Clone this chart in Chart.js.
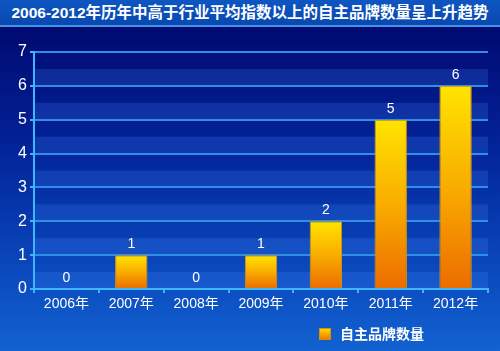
<!DOCTYPE html>
<html>
<head>
<meta charset="utf-8">
<script src="https://cdn.jsdelivr.net/npm/chart.js@4"></script>
<style>
    html, body { margin: 0; padding: 0; }
    body {
        width: 500px; height: 351px; position: relative; overflow: hidden;
        background: linear-gradient(to bottom, #000a72 0px, #000a72 30px, #03249a 150px, #0b4cc0 280px, #1262d0 351px);
        font-family: "Liberation Sans", "Noto Sans CJK SC", sans-serif;
    }
    .title {
        position: absolute; left: 0; top: 0; width: 500px; height: 25px;
        background: linear-gradient(to bottom, #0e56c2, #0a48b0);
        border-bottom: 2px solid #3f94e6;
        color: #fff; font-weight: bold; font-size: 15.5px; line-height: 25px;
        text-align: center; white-space: nowrap;
    }
    #wrap { position: absolute; left: 0; top: 0; width: 500px; height: 351px; }
    .legend {
        position: absolute; left: 319px; top: 324px; color: #fff;
        font-weight: bold; font-size: 14px; line-height: 18px;
        font-family: "Noto Sans CJK SC", sans-serif;
    }
    .legend span.box {
        display: inline-block; width: 10px; height: 10px; margin-right: 9px; vertical-align: -1px;
        background: linear-gradient(to bottom, #ffd800, #f07800); border: 1px solid #d89000;
    }
</style>
</head>
<body>
<div class="title">2006-2012年历年中高于行业平均指数以上的自主品牌数量呈上升趋势</div>
<div id="wrap"><canvas id="brandChart" width="500" height="351"></canvas></div>
<div class="legend"><span class="box"></span>自主品牌数量</div>
<script>
document.addEventListener("DOMContentLoaded", function() {
    const years = ['2006年', '2007年', '2008年', '2009年', '2010年', '2011年', '2012年']
    const brandCounts = [0, 1, 0, 1, 2, 5, 6]
    const yMax = 7

    // alternating bands between half-unit gridlines
    const bandsPlugin = {
        id: 'bands',
        beforeDraw(chart) {
            const { ctx, chartArea: { left, right }, scales: { y } } = chart
            ctx.save()
            for (let v = 0; v < yMax; v += 1) {
                const top = y.getPixelForValue(v + 0.5)
                const bottom = y.getPixelForValue(v)
                ctx.fillStyle = 'rgba(70,140,255,0.2)'
                ctx.fillRect(left, top, right - left, bottom - top)
            }
            ctx.restore()
        }
    }

    const valueLabels = {
        id: 'valueLabels',
        afterDatasetsDraw(chart) {
            const { ctx } = chart
            const meta = chart.getDatasetMeta(0)
            ctx.save()
            ctx.fillStyle = '#ffffff'
            ctx.font = "14px 'Liberation Sans', sans-serif"
            ctx.textAlign = 'center'
            ctx.textBaseline = 'middle'
            meta.data.forEach((bar, i) => {
                ctx.fillText(String(brandCounts[i]), bar.x, bar.y - 11)
            })
            ctx.restore()
        }
    }

    const ctx = document.getElementById("brandChart")

    new Chart(ctx, {
        type: 'bar',
        data: {
            labels: years,
            datasets: [{
                label: '自主品牌数量',
                data: brandCounts,
                barPercentage: 0.5,
                categoryPercentage: 1,
                borderWidth: 1,
                borderColor: '#dc9400',
                borderSkipped: 'bottom',
                backgroundColor: (context) => {
                    const chart = context.chart
                    if (!chart.chartArea || context.parsed === undefined) {
                        return '#f8b000'
                    }
                    const y = chart.scales.y
                    const top = y.getPixelForValue(context.parsed.y)
                    const bottom = y.getPixelForValue(0)
                    if (bottom - top < 1) {
                        return '#f8b000'
                    }
                    const g = chart.ctx.createLinearGradient(0, top, 0, bottom)
                    g.addColorStop(0, '#ffe400')
                    g.addColorStop(0.5, '#f9ac00')
                    g.addColorStop(1, '#ec6c00')
                    return g
                }
            }]
        },
        options: {
            responsive: false,
            animation: false,
            layout: { padding: { top: 52, right: 12, left: 0, bottom: 0 } },
            scales: {
                y: {
                    min: 0,
                    max: yMax,
                    afterFit: (scale) => { scale.width = 34 },
                    ticks: {
                        stepSize: 0.5,
                        color: '#ffffff',
                        padding: 3,
                        font: { size: 16, family: "'Liberation Sans', sans-serif" },
                        callback: (v) => Number.isInteger(v) ? v : ''
                    },
                    grid: {
                        color: '#2f8fe6',
                        lineWidth: 2,
                        tickLength: 4,
                        tickColor: (c) => Number.isInteger(c.tick.value) ? '#3fb4ff' : 'rgba(0,0,0,0)'
                    },
                    border: { color: '#3fb4ff', width: 2 }
                },
                x: {
                    afterFit: (scale) => { scale.height = 62 },
                    ticks: {
                        color: '#ffffff',
                        padding: 3,
                        font: { size: 14, family: "'Liberation Sans', 'Noto Sans CJK SC', sans-serif" }
                    },
                    grid: {
                        drawOnChartArea: false,
                        tickLength: 4,
                        color: '#3fb4ff',
                        lineWidth: 2
                    },
                    border: { color: '#3fb4ff', width: 2 }
                }
            },
            plugins: {
                legend: { display: false },
                tooltip: { enabled: false }
            }
        },
        plugins: [bandsPlugin, valueLabels]
    })
});
</script>
</body>
</html>
